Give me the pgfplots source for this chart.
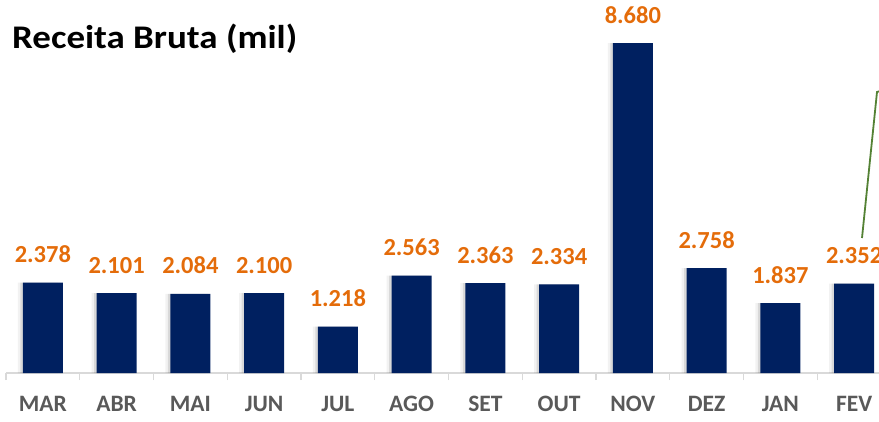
\documentclass[border=0pt]{standalone}
\usepackage{pgfplots}
\usepackage{pgfplotstable}
\pgfplotsset{compat=1.18}
\usepackage{fontspec}
\setmainfont{Carlito}

\definecolor{barnavy}{RGB}{0,32,96}
\definecolor{lblorange}{RGB}{228,108,10}
\definecolor{monthgray}{RGB}{89,89,89}
\definecolor{axisgray}{RGB}{217,217,217}
\definecolor{callout}{RGB}{84,130,53}

% receita bruta mensal (mil)
\pgfplotstableread{
x  y      lbl
0  2.378  2.378
1  2.101  2.101
2  2.084  2.084
3  2.100  2.100
4  1.218  1.218
5  2.563  2.563
6  2.363  2.363
7  2.334  2.334
8  8.680  8.680
9  2.758  2.758
10 1.837  1.837
11 2.352  2.352
}\receita

\begin{document}
\begin{tikzpicture}[x=1pt,y=1pt]
    \useasboundingbox (0,0) rectangle (879,421);
    \clip (0,0) rectangle (879,421);

    \node[anchor=base west, inner sep=0pt,
          font=\fontsize{33}{36}\selectfont\bfseries]
        at (12,372) {\scalebox{1.12}[1]{Receita Bruta (mil)}};

    \begin{axis}[
            at={(6pt,48pt)},
            anchor=south west,
            scale only axis,
            width=958.75pt,
            height=380pt,
            xmin=-0.5, xmax=12.5,
            ymin=0, ymax=10,
            axis x line*=bottom,
            axis y line=none,
            x axis line style={-, draw=axisgray, line width=1.2pt},
            xtick={0,...,11},
            xticklabels={MAR,ABR,MAI,JUN,JUL,AGO,SET,OUT,NOV,DEZ,JAN,FEV},
            major tick length=0pt,
            minor xtick={-0.5,0.5,...,11.5},
            minor tick length=7pt,
            tick align=outside,
            minor tick style={draw=axisgray, line width=1.2pt},
            ytick=\empty,
            xticklabel style={
                font=\fontsize{23.5}{24}\selectfont\bfseries,
                text=monthgray,
                anchor=base,
                yshift=-38pt
            },
            clip=false
        ]

        % soft shadow behind bars
        \addplot[ybar, bar width=40pt, bar shift=-5pt, draw=none,
                 fill=black, fill opacity=0.05]
            table[x=x, y=y] {\receita};
        \addplot[ybar, bar width=40pt, bar shift=-2.5pt, draw=none,
                 fill=black, fill opacity=0.10]
            table[x=x, y=y] {\receita};

        \addplot[
            ybar,
            bar width=40pt,
            bar shift=0pt,
            draw=none,
            fill=barnavy,
            point meta=explicit symbolic,
            nodes near coords,
            every node near coord/.append style={
                font=\fontsize{24.5}{25}\selectfont\bfseries,
                text=lblorange,
                anchor=base,
                yshift=20pt
            }
        ] table[x=x, y=y, meta=lbl] {\receita};

    \end{axis}

    % callout line cut off at the right edge
    \draw[callout, line width=1.8pt] (862,183) -- (877,329) -- (884,331);
\end{tikzpicture}
\end{document}
